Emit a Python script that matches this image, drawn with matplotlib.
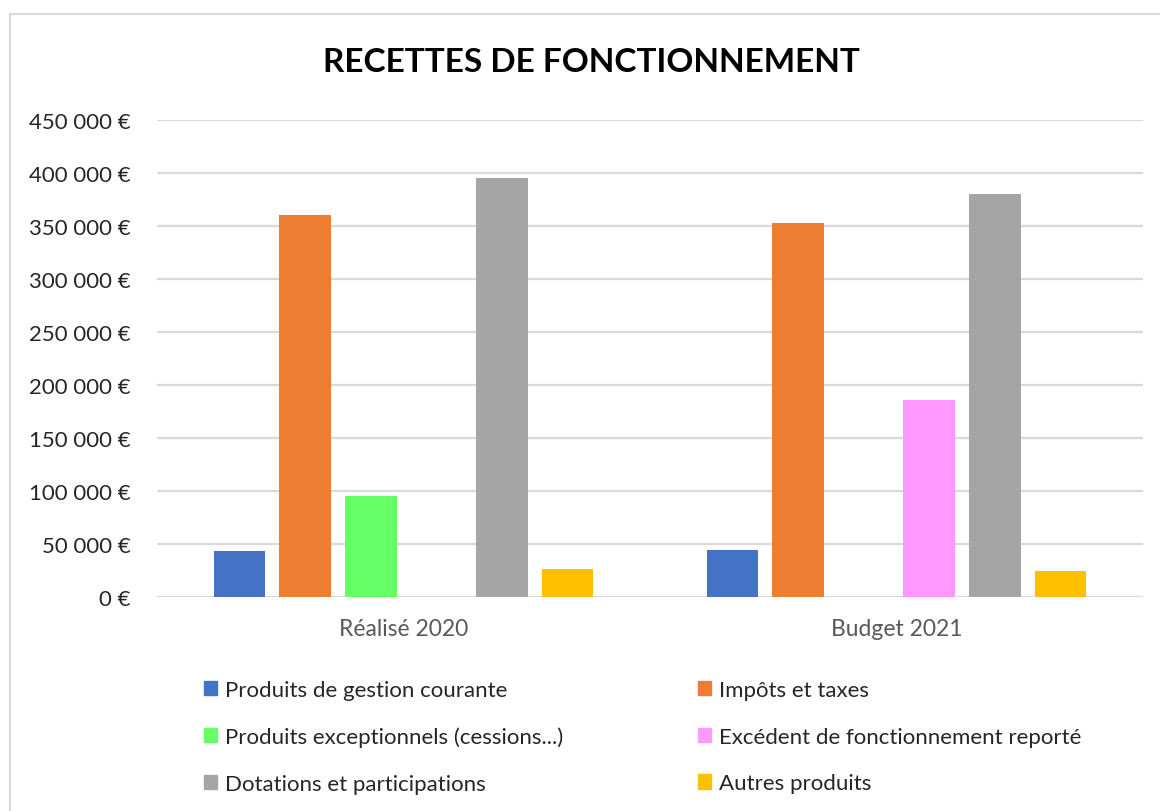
import numpy as np
import matplotlib.pyplot as plt
from matplotlib.lines import Line2D
from matplotlib.patches import Patch

plt.rcParams['font.family'] = ['Lato', 'DejaVu Sans']

# data
categories = ['Réalisé 2020', 'Budget 2021']
series = ['Produits de gestion courante', 'Impôts et taxes',
          'Produits exceptionnels (cessions...)', 'Excédent de fonctionnement reporté',
          'Dotations et participations', 'Autres produits']
colors = ['#4472C4', '#ED7D31', '#66FF66', '#FF99FF', '#A5A5A5', '#FFC000']
gestion = [43000, 44500]
impots = [360000, 353000]
exceptionnels = [95000, 0]
excedent = [0, 186000]
dotations = [395000, 380000]
autres = [26000, 24500]
values = [gestion, impots, exceptionnels, excedent, dotations, autres]
yticks = [0, 50000, 100000, 150000, 200000, 250000, 300000, 350000, 400000, 450000]

fig = plt.figure(figsize=(11.6, 8.12), dpi=100)
ax = fig.add_axes([157/1160, 1-598/812, (1143-157)/1160, (598-121)/812])

x = np.arange(len(categories))
pitch = 0.133
width = 0.105
for i in range(len(series)):
	ax.bar(x + (i - 2.5) * pitch, values[i], width, color=colors[i], label=series[i], zorder=3)

ax.set_xlim(-0.5, 1.5)
ax.set_ylim(0, 450000)
ax.set_yticks(yticks)
ax.set_yticklabels(['{:,.0f}'.format(v).replace(',', ' ') + ' €' for v in yticks])
ax.set_xticks(x)
ax.set_xticklabels(categories, color='#595959')
ax.tick_params(axis='y', length=0, pad=19, labelsize=16, labelcolor='#262626')
ax.tick_params(axis='x', length=0, pad=15, labelsize=16.5)
ax.grid(axis='y', color='#d9d9d9', linewidth=1.6, zorder=0)
for s in ax.spines.values():
	s.set_visible(False)

fig.text(0.510, 1-62/812, 'RECETTES DE FONCTIONNEMENT', ha='center', va='center',
         fontsize=24, fontweight='bold', color='black')

# legend in two columns, row order
handles = [Patch(color=c) for c in colors]
leg_kw = dict(loc='upper left', frameon=False, fontsize=16, handlelength=0.6, handleheight=0.6,
              handletextpad=0.35, labelspacing=1.2, labelcolor='#262626')
fig.legend([handles[0], handles[2], handles[4]], [series[0], series[2], series[4]],
           bbox_to_anchor=(184/1160, 1-661/812), **leg_kw)
fig.legend([handles[1], handles[3], handles[5]], [series[1], series[3], series[5]],
           bbox_to_anchor=(678/1160, 1-661/812), **leg_kw)

# chart border
fig.add_artist(Line2D([10/1160, 10/1160], [0, 1-15/812], color='#d9d9d9', linewidth=1.5))
fig.add_artist(Line2D([10/1160, 1], [1-15/812, 1-15/812], color='#d9d9d9', linewidth=1.5))

fig.savefig('out.png', dpi=100, facecolor='white')
